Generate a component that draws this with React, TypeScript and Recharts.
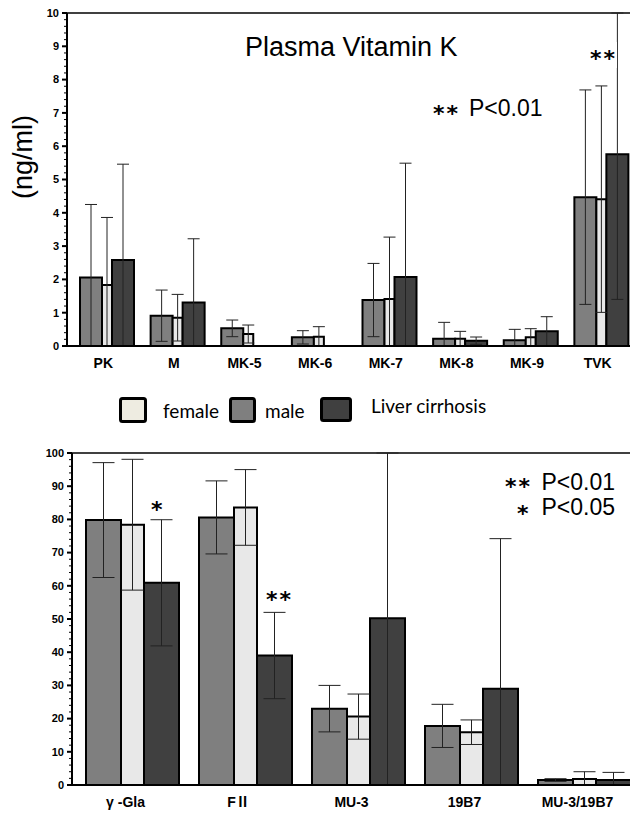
import { BarChart, Bar, XAxis, YAxis, ErrorBar, ReferenceLine } from 'recharts'

// top panel: plasma vitamin K (ng/ml)
const topCategories = ['PK', 'M', 'MK-5', 'MK-6', 'MK-7', 'MK-8', 'MK-9', 'TVK']
const topMale = [2.06, 0.91, 0.53, 0.26, 1.38, 0.22, 0.17, 4.47]
const topMaleSd = [2.19, 0.77, 0.25, 0.2, 1.1, 0.49, 0.33, 3.22]
const topFemale = [1.83, 0.85, 0.36, 0.28, 1.41, 0.22, 0.26, 4.41]
const topFemaleSd = [2.03, 0.7, 0.27, 0.3, 1.86, 0.22, 0.26, 3.4]
const topCirrhosis = [2.58, 1.31, 0, 0, 2.07, 0.16, 0.44, 5.76]
const topCirrhosisSd = [2.88, 1.91, 0, 0, 3.42, 0.11, 0.44, 4.36]
const topMajorTicks = [0, 1, 2, 3, 4, 5, 6, 7, 8, 9, 10]
const topMinorTicks = Array.from({ length: 51 }, (_, i) => i / 5)

// bottom panel
const bottomCategories = ['γ -Gla', 'FⅡ', 'MU-3', '19B7', 'MU-3/19B7']
const bottomMale = [79.8, 80.6, 23.0, 17.8, 1.5]
const bottomMaleSd = [17.3, 11, 7, 6.5, 0.4]
const bottomFemale = [78.4, 83.6, 20.6, 15.9, 1.8]
const bottomFemaleSd = [19.7, 11.4, 6.8, 3.7, 2.2]
const bottomCirrhosis = [60.9, 39.0, 50.2, 29.0, 1.5]
const bottomCirrhosisSd = [19, 13, 52, 45.2, 2.3]
const bottomMajorTicks = [0, 10, 20, 30, 40, 50, 60, 70, 80, 90, 100]
const bottomMinorTicks = Array.from({ length: 51 }, (_, i) => i * 2)

const legendLabels = ['female', 'male', 'Liver cirrhosis']

const MALE = '#7f7f7f'
const FEMALE = '#e8e8e8'
const CIRRHOSIS = '#404040'

const topData = topCategories.map((name, i) => ({
  name,
  male: topMale[i],
  maleSd: topMaleSd[i],
  female: topFemale[i],
  femaleSd: topFemaleSd[i],
  cirrhosis: topCirrhosis[i],
  cirrhosisSd: topCirrhosisSd[i],
}))

const bottomData = bottomCategories.map((name, i) => ({
  name,
  male: bottomMale[i],
  maleSd: bottomMaleSd[i],
  female: bottomFemale[i],
  femaleSd: bottomFemaleSd[i],
  cirrhosis: bottomCirrhosis[i],
  cirrhosisSd: bottomCirrhosisSd[i],
}))

const makeYTick = (major: number[]) => (props: any) => {
  const { x, y, payload } = props
  const isMajor = major.includes(payload.value)
  return (
    <g>
      <line x1={x - (isMajor ? 5 : 3)} x2={x} y1={y} y2={y} stroke="#000" strokeWidth={isMajor ? 2 : 1} />
      {isMajor && (
        <text x={x - 8} y={y} dy="0.35em" textAnchor="end" fontSize={11} fontWeight="bold" fill="#000">
          {payload.value}
        </text>
      )}
    </g>
  )
}

// SD whiskers, cut off at the plot frame like the original
const whisker = (key: string, max: number) => (d: any) => [
  Math.min(d[key + 'Sd'], d[key]),
  Math.min(d[key + 'Sd'], max - d[key]),
]

const bars = (w: number, lw: number, cap: number, max: number) => [
  <Bar key="m" dataKey="male" fill={MALE} stroke="#000" strokeWidth={2} barSize={w} isAnimationActive={false}>
    <ErrorBar dataKey={whisker('male', max)} width={cap} stroke="#222" strokeWidth={1} direction="y" />
  </Bar>,
  <Bar key="f" dataKey="female" fill={FEMALE} stroke="#000" strokeWidth={2} barSize={lw} isAnimationActive={false}>
    <ErrorBar dataKey={whisker('female', max)} width={cap} stroke="#222" strokeWidth={1} direction="y" />
  </Bar>,
  <Bar key="c" dataKey="cirrhosis" fill={CIRRHOSIS} stroke="#000" strokeWidth={2} barSize={w} isAnimationActive={false}>
    <ErrorBar dataKey={whisker('cirrhosis', max)} width={cap} stroke="#222" strokeWidth={1} direction="y" />
  </Bar>,
]

const star = {
  fontSize: 22,
  fontWeight: 'bold' as const,
  letterSpacing: 2,
  fontFamily: "'DejaVu Sans', sans-serif",
  fill: '#000',
}

const App = () => {
  return (
    <div
      style={{
        position: 'absolute',
        left: 0,
        top: 0,
        width: 630,
        height: 817,
        overflow: 'hidden',
        background: '#fff',
        fontFamily: "'Liberation Sans', 'Noto Sans CJK JP', sans-serif",
      }}
    >
      <div style={{ position: 'absolute', left: 0, top: 0 }}>
        <BarChart width={640} height={372} data={topData} barGap={0} margin={{ top: 13, right: 3, bottom: 2, left: 0 }}>
          <XAxis
            dataKey="name"
            height={24}
            padding={{ left: 5, right: 0 }}
            tickLine={false}
            tickSize={0}
            tickMargin={12}
            interval={0}
            axisLine={{ stroke: '#000', strokeWidth: 2 }}
            tick={{ fontSize: 14, fontWeight: 'bold', fill: '#000', dx: -4 }}
          />
          <YAxis
            width={67}
            domain={[0, 10]}
            allowDataOverflow
            ticks={topMinorTicks}
            interval={0}
            tickLine={false}
            tickSize={0}
            tickMargin={0}
            axisLine={{ stroke: '#000', strokeWidth: 2 }}
            tick={makeYTick(topMajorTicks)}
          />
          <ReferenceLine y={10} stroke="#000" strokeWidth={1.5} />
          {bars(22, 10, 6, 10)}
        </BarChart>
      </div>

      <div style={{ position: 'absolute', left: 0, top: 440 }}>
        <BarChart width={645} height={375} data={bottomData} barGap={0} margin={{ top: 13, right: 4, bottom: 0, left: 0 }}>
          <XAxis
            dataKey="name"
            height={30}
            padding={{ left: 4, right: 0 }}
            tickLine={false}
            tickSize={0}
            tickMargin={12}
            interval={0}
            axisLine={{ stroke: '#000', strokeWidth: 2 }}
            tick={{ fontSize: 14, fontWeight: 'bold', fill: '#000', dx: -7 }}
          />
          <YAxis
            width={72}
            domain={[0, 100]}
            allowDataOverflow
            ticks={bottomMinorTicks}
            interval={0}
            tickLine={false}
            tickSize={0}
            tickMargin={0}
            axisLine={{ stroke: '#000', strokeWidth: 2 }}
            tick={makeYTick(bottomMajorTicks)}
          />
          <ReferenceLine y={100} stroke="#000" strokeWidth={1.5} />
          {bars(35, 23, 11, 100)}
        </BarChart>
      </div>

      <svg width={630} height={817} style={{ position: 'absolute', left: 0, top: 0, pointerEvents: 'none' }}>
        {/* top panel texts */}
        <text x={245} y={56} fontSize={27} fill="#000">Plasma Vitamin K</text>
        <text x={433} y={121} {...star}>**</text>
        <text x={469} y={116} fontSize={23} fill="#000">P&lt;0.01</text>
        <rect x={587} y={42} width={30} height={26} fill="#fff" />
        <text x={590} y={66} {...star}>**</text>
        <text
          x={32}
          y={157}
          transform="rotate(-90 32 157)"
          textAnchor="middle"
          fontSize={27}
          fill="#000"
        >
          (ng/ml)
        </text>

        {/* legend */}
        <rect x={120.5} y={398.5} width={25} height={23} rx={2} fill="#eeece1" stroke="#000" strokeWidth={3} />
        <text x={163} y={418} fontSize={19} fontFamily="Lato, sans-serif" fill="#000">{legendLabels[0]}</text>
        <rect x={230.5} y={398.5} width={24} height={23} rx={2} fill={MALE} stroke="#000" strokeWidth={3} />
        <text x={265} y={418} fontSize={19} fontFamily="Lato, sans-serif" fill="#000">{legendLabels[1]}</text>
        <rect x={321.5} y={398.5} width={29} height={22} rx={2} fill={CIRRHOSIS} stroke="#000" strokeWidth={3} />
        <text x={371} y={413} fontSize={19} fontFamily="Lato, sans-serif" fill="#000">{legendLabels[2]}</text>

        {/* bottom panel texts */}
        <text x={151} y={517} {...star}>*</text>
        <text x={266} y={607} {...star}>**</text>
        <text x={505} y={494} {...star}>**</text>
        <text x={615} y={490} fontSize={23} textAnchor="end" fill="#000">P&lt;0.01</text>
        <text x={517} y={521} {...star}>*</text>
        <text x={615} y={515} fontSize={23} textAnchor="end" fill="#000">P&lt;0.05</text>
      </svg>
    </div>
  )
}

export default App
